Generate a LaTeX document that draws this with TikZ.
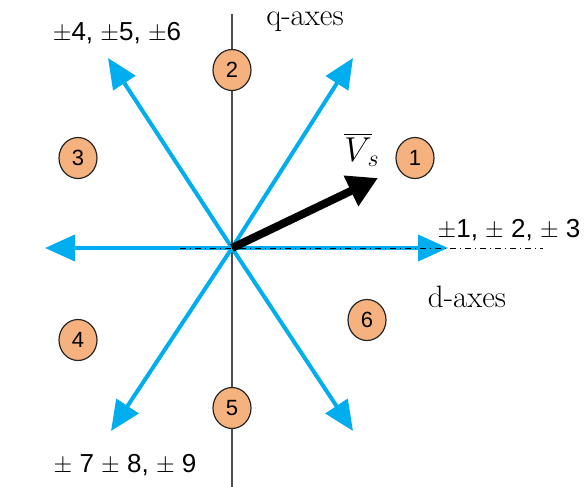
\documentclass[tikz,border=0pt]{standalone}
\usepackage{fontspec}
\setsansfont{Liberation Sans}
\usetikzlibrary{arrows.meta,shapes.geometric}
\definecolor{vecblue}{HTML}{00AEEF}
\definecolor{secorange}{HTML}{F5B27E}
\tikzset{
  sector/.style={ellipse, draw=black!85, fill=secorange, line width=0.6pt,
    minimum width=19pt, minimum height=20.5pt, inner sep=0pt,
    font=\sffamily\fontsize{11}{11}\selectfont},
  switchvec/.style={vecblue, line width=2pt, -{Triangle[length=15pt,width=13pt]}},
  statelbl/.style={font=\sffamily\fontsize{13}{13}\selectfont},
  axislbl/.style={font=\fontsize{15.5}{16}\selectfont}
}
\begin{document}
\begin{tikzpicture}[x=0.5pt,y=-0.5pt]
\useasboundingbox (0,0) rectangle (584,487);

\coordinate (O) at (232,248);
\coordinate (qtop) at (232,14);
\coordinate (qbot) at (232,487);
\coordinate (dl) at (180,248);
\coordinate (dr) at (543,248);

% q axis
\draw[black!70, line width=0.8pt] (qtop) -- (qbot);

% switching vectors
\draw[switchvec] (O) -- (448,248);
\draw[switchvec] (O) -- (45,248);
\draw[switchvec] (O) -- (353,58);
\draw[switchvec] (O) -- (108,58);
\draw[switchvec] (O) -- (111,431);
\draw[switchvec] (O) -- (353,431);

% d axis
\draw[black, line width=0.5pt, dash dot] (dl) -- (dr);

% space vector
\draw[line width=4pt, -{Triangle[length=15pt,width=16pt]}] (O) -- (378,178);
\node (vs) at (362,150) {\fontsize{18}{18}\selectfont $\overline{V}_{\!s}$};

% sectors
\node[sector] (s1) at (415,158) {1};
\node[sector] (s2) at (232,70) {2};
\node[sector] (s3) at (78,158) {3};
\node[sector] (s4) at (78,340) {4};
\node[sector] (s5) at (232,408) {5};
\node[sector] (s6) at (367,320) {6};

% labels
\node[axislbl] (qlbl) at (305,22) {q-axes};
\node[axislbl] (dlbl) at (467,297) {d-axes};
\node[statelbl] (st1) at (117,33) {$\pm$4, $\pm$5, $\pm$6};
\node[statelbl] (st2) at (509,230) {$\pm$1, $\pm$ 2, $\pm$ 3};
\node[statelbl] (st3) at (125,465) {$\pm$ 7 $\pm$ 8, $\pm$ 9};
\end{tikzpicture}
\end{document}
